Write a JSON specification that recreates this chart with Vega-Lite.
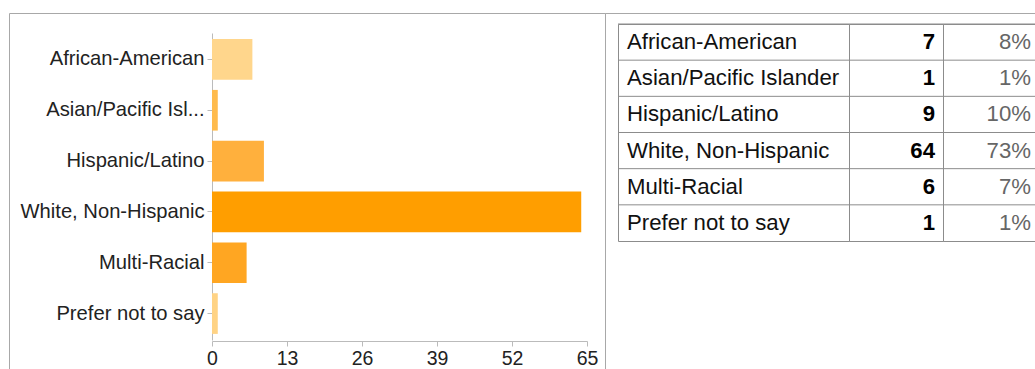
{
  "$schema": "https://vega.github.io/schema/vega-lite/v6.json",
  "padding": {"left": 8, "top": 12, "right": 0, "bottom": 0},
  "autosize": {"type": "pad"},
  "background": "white",
  "datasets": {
    "races": [
      {"race": "African-American", "count": 7, "pct": 0.08},
      {"race": "Asian/Pacific Islander", "count": 1, "pct": 0.01},
      {"race": "Hispanic/Latino", "count": 9, "pct": 0.10},
      {"race": "White, Non-Hispanic", "count": 64, "pct": 0.73},
      {"race": "Multi-Racial", "count": 6, "pct": 0.07},
      {"race": "Prefer not to say", "count": 1, "pct": 0.01}
    ]
  },
  "config": {
    "font": "Liberation Sans",
    "view": {"stroke": "#a8a8a8"},
    "concat": {"spacing": 0}
  },
  "bounds": "flush",
  "hconcat": [
    {
      "width": 596,
      "height": 357,
      "data": {"name": "races"},
      "mark": {"type": "bar"},
      "encoding": {
        "y": {
          "field": "race", "type": "nominal", "sort": null,
          "scale": {"range": [20, 327], "paddingInner": 0.2, "paddingOuter": 0.12},
          "axis": {
            "title": null, "offset": -203, "labelFontSize": 20.2, "labelColor": "#222",
            "labelPadding": 3, "tickSize": 5, "tickColor": "#bbbbbb", "domainColor": "#bbbbbb",
            "labelLimit": 300,
            "labelExpr": "length(datum.label) > 19 ? substring(datum.label, 0, 17) + '...' : datum.label"
          }
        },
        "x": {
          "field": "count", "type": "quantitative",
          "scale": {"domain": [0, 65], "range": [203, 578], "nice": false},
          "axis": {
            "title": null, "offset": -29, "values": [0, 13, 26, 39, 52, 65], "grid": false,
            "labelFontSize": 19.5, "labelColor": "#222", "labelPadding": 3, "tickSize": 5,
            "tickColor": "#bbbbbb", "domainColor": "#bbbbbb", "labelFlush": false
          }
        },
        "color": {
          "field": "race", "type": "nominal", "legend": null,
          "scale": {
            "domain": ["African-American", "Asian/Pacific Islander", "Hispanic/Latino", "White, Non-Hispanic", "Multi-Racial", "Prefer not to say"],
            "range": ["#ffd68c", "#ffbb4d", "#ffb03d", "#ff9e00", "#ffa622", "#ffd385"]
          }
        }
      }
    },
    {
      "spacing": 10,
      "bounds": "flush",
      "vconcat": [
        {
          "width": 431, "height": 0.001,
          "view": {"stroke": "#a8a8a8"},
          "data": {"values": []},
          "mark": "point",
          "encoding": {}
        },
        {
          "spacing": 0,
          "bounds": "flush",
          "hconcat": [
            {
              "width": 13, "height": 217,
              "view": {"stroke": null},
              "data": {"values": []},
              "mark": "point",
              "encoding": {}
            },
            {
              "width": 231, "height": 217,
              "view": {"stroke": "#8c8c8c"},
              "data": {"name": "races"},
              "encoding": {
                "y": {"field": "race", "type": "nominal", "sort": null, "scale": {"paddingInner": 0, "paddingOuter": 0}, "axis": null}
              },
              "layer": [
                {"mark": {"type": "rule", "color": "#8c8c8c"}, "encoding": {"y": {"field": "race", "type": "nominal", "sort": null, "bandPosition": 0}}},
                {
                  "mark": {"type": "text", "align": "left", "dx": 9, "fontSize": 22.2, "color": "#111"},
                  "encoding": {
                    "x": {"datum": 0, "type": "quantitative", "scale": {"domain": [0, 1]}, "axis": null},
                    "text": {"field": "race"}
                  }
                }
              ]
            },
            {
              "width": 94, "height": 217,
              "view": {"stroke": "#8c8c8c"},
              "data": {"name": "races"},
              "encoding": {
                "y": {"field": "race", "type": "nominal", "sort": null, "scale": {"paddingInner": 0, "paddingOuter": 0}, "axis": null}
              },
              "layer": [
                {"mark": {"type": "rule", "color": "#8c8c8c"}, "encoding": {"y": {"field": "race", "type": "nominal", "sort": null, "bandPosition": 0}}},
                {
                  "mark": {"type": "text", "align": "right", "dx": -8, "fontSize": 22.2, "fontWeight": "bold", "color": "#000"},
                  "encoding": {
                    "x": {"datum": 1, "type": "quantitative", "scale": {"domain": [0, 1]}, "axis": null},
                    "text": {"field": "count", "type": "quantitative"}
                  }
                }
              ]
            },
            {
              "width": 92, "height": 217,
              "view": {"stroke": "#8c8c8c"},
              "data": {"name": "races"},
              "encoding": {
                "y": {"field": "race", "type": "nominal", "sort": null, "scale": {"paddingInner": 0, "paddingOuter": 0}, "axis": null}
              },
              "layer": [
                {"mark": {"type": "rule", "color": "#8c8c8c"}, "encoding": {"y": {"field": "race", "type": "nominal", "sort": null, "bandPosition": 0}}},
                {
                  "mark": {"type": "text", "align": "right", "dx": -4, "fontSize": 22.2, "color": "#666"},
                  "encoding": {
                    "x": {"datum": 1, "type": "quantitative", "scale": {"domain": [0, 1]}, "axis": null},
                    "text": {"field": "pct", "type": "quantitative", "format": ".0%"}
                  }
                }
              ]
            }
          ]
        }
      ]
    }
  ]
}
